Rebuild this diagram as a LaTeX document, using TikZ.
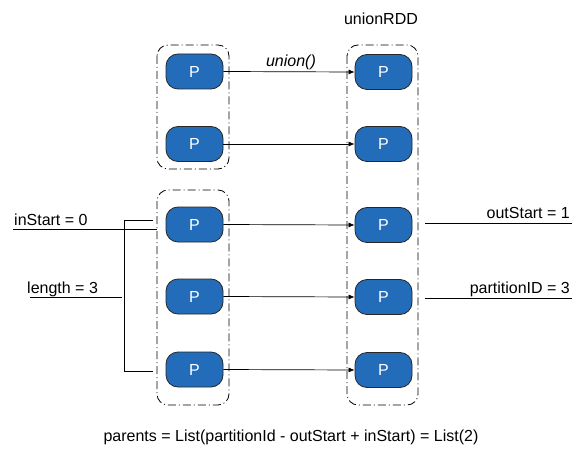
\documentclass[tikz,border=0pt]{standalone}
\usepackage{fontspec}
\setmainfont{Liberation Sans}
\usetikzlibrary{arrows.meta}
\definecolor{pblue}{RGB}{35,108,185}
\begin{document}
\begin{tikzpicture}[x=1pt,y=-1pt,
  pnode/.style={draw=black!85,line width=0.8pt,fill=pblue,rounded corners=12pt,minimum width=57pt,minimum height=35pt,inner sep=0pt,text=white,font=\fontsize{16}{19}\selectfont},
  grp/.style={draw,line width=0.8pt,dash pattern=on 8pt off 3pt on 1pt off 3pt,rounded corners=11pt},
  lbl/.style={inner sep=0pt,font=\fontsize{16}{19}\selectfont},
  conn/.style={line width=0.7pt,-{Latex[length=6pt,width=5pt]}},
  plain/.style={line width=0.7pt}]
\useasboundingbox (0,0) rectangle (585,462);
% group boxes
\draw[grp] (157,45) rectangle (229,169);
\draw[grp] (157,190) rectangle (229,405);
\draw[grp] (347,45) rectangle (418,405);
% left P nodes
\node[pnode] (l1) at (194.5,71.5) {P};
\node[pnode] (l2) at (194.5,144) {P};
\node[pnode] (l3) at (194.5,224.5) {P};
\node[pnode] (l4) at (194.5,296.5) {P};
\node[pnode] (l5) at (194.5,369.5) {P};
% right P nodes
\node[pnode] (r1) at (383.5,72) {P};
\node[pnode] (r2) at (383.5,144) {P};
\node[pnode] (r3) at (383.5,225) {P};
\node[pnode] (r4) at (383.5,297) {P};
\node[pnode] (r5) at (383.5,370) {P};
% arrows
\draw[conn] (l1.east) -- (r1.west);
\draw[conn] (l2.east) -- (r2.west);
\draw[conn] (l3.east) -- (r3.west);
\draw[conn] (l4.east) -- (r4.west);
\draw[conn] (l5.east) -- (r5.west);
% labels
\node[lbl,anchor=base] (title) at (381,25) {unionRDD};
\node[lbl,anchor=base,font=\fontsize{16}{19}\selectfont\itshape] (un) at (291,67) {union()};
\node[lbl,anchor=base west] (ins) at (14,225) {inStart = 0};
\node[lbl,anchor=base west] (len) at (27,293) {length = 3};
\node[lbl,anchor=base east] (outs) at (570,218) {outStart = 1};
\node[lbl,anchor=base east] (pid) at (570,293) {partitionID = 3};
\node[lbl,anchor=base] (par) at (291,441) {parents = List(partitionId - outStart + inStart) = List(2)};
% bracket
\coordinate (bt) at (153,220);
\coordinate (bb) at (153,371);
\coordinate (bxt) at (124,220);
\coordinate (bxb) at (124,371);
\draw[plain] (bt) -- (bxt) -- (bxb) -- (bb);
% underline lines
\coordinate (i1) at (13,229);
\coordinate (i2) at (157,229);
\draw[plain] (i1) -- (i2);
\coordinate (g1) at (30,297);
\coordinate (g2) at (122,297);
\draw[plain] (g1) -- (g2);
\coordinate (o1) at (425,223);
\coordinate (o2) at (572,223);
\draw[plain] (o1) -- (o2);
\coordinate (p1) at (425,298);
\coordinate (p2) at (572,298);
\draw[plain] (p1) -- (p2);
\end{tikzpicture}
\end{document}
